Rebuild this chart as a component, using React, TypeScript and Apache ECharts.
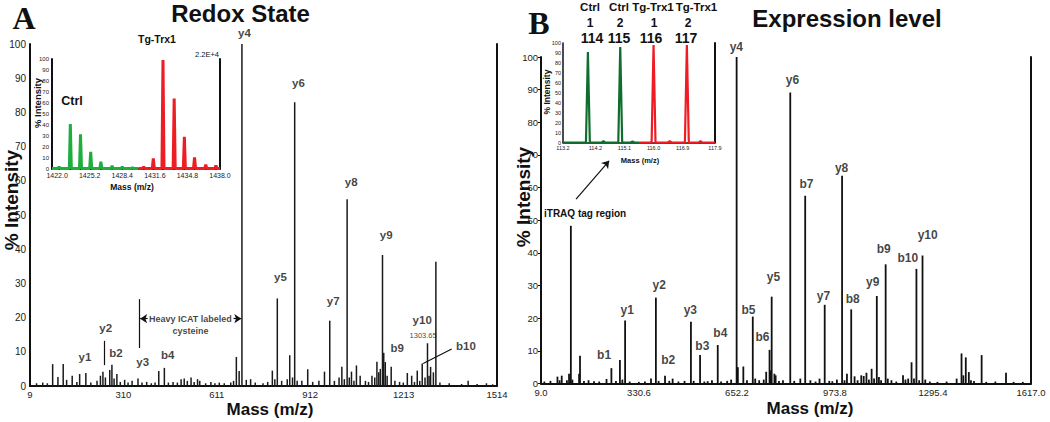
import React, { useEffect, useRef } from 'react';
import * as echarts from 'echarts';

const SANS = "'Liberation Sans', Arial, Helvetica, sans-serif";
const NARROW = "'Liberation Sans Narrow', 'Arial Narrow', 'Liberation Sans', Arial, sans-serif";
const SERIF = "'Liberation Serif', 'Times New Roman', serif";

// ---------- Panel A : Redox State ----------
const A_X_TICKS = [9, 310, 611, 912, 1213, 1514];
const A_PEAKS: [number, number][] = [
  [30, 0.8], [50, 1.0], [65, 0.8], [82, 6.4], [99, 2.6], [116, 6.4], [127, 1.8], [145, 3.0], [160, 1.2],
  [169, 3.5], [189, 3.8], [205, 1.0], [225, 1.5], [236, 3.0], [244, 4.2], [252, 2.5], [266, 4.7], [273, 6.2],
  [280, 2.2], [289, 3.5], [300, 1.2], [314, 1.8], [325, 1.0], [338, 1.5], [357, 2.2], [370, 1.0], [385, 1.2],
  [400, 0.8], [412, 1.0], [424, 4.4], [442, 5.3], [455, 1.0], [470, 1.2], [484, 1.0], [496, 2.0], [506, 2.2],
  [516, 1.5], [528, 2.5], [538, 1.2], [549, 2.0], [556, 1.5], [575, 0.8], [592, 1.2], [605, 0.8], [619, 1.0],
  [635, 0.8], [656, 1.0], [665, 1.5], [674, 8.5], [683, 4.4], [692, 100], [706, 1.8], [720, 2.0], [735, 1.0],
  [760, 0.8], [775, 1.2], [790, 4.5], [798, 2.0], [806, 25.6], [820, 1.5], [838, 2.0], [846, 9.0], [855, 2.5],
  [862, 83], [870, 1.5], [885, 1.5], [904, 4.9], [920, 1.2], [940, 1.5], [958, 4.2], [975, 19.1], [990, 1.5],
  [1005, 2.5], [1014, 5.6], [1022, 2.0], [1031, 54.6], [1038, 2.5], [1045, 4.2], [1053, 1.5], [1061, 6.0],
  [1073, 3.0], [1090, 1.5], [1100, 1.2], [1111, 3.0], [1120, 2.5], [1127, 7.1], [1133, 4.0], [1138, 5.0],
  [1145, 38.3], [1149, 9.7], [1154, 7.0], [1160, 3.0], [1173, 5.6], [1185, 1.5], [1200, 1.2], [1212, 1.0],
  [1225, 3.8], [1239, 3.0], [1248, 1.2], [1257, 4.5], [1265, 1.5], [1273, 6.6], [1282, 2.5], [1290, 12.5],
  [1295, 3.0], [1300, 5.6], [1309, 4.0], [1317, 36.3], [1330, 1.0], [1360, 0.8], [1400, 0.6], [1421, 1.5],
  [1450, 0.6], [1480, 0.8], [1500, 0.5],
];
const A_IONS: [number, number, string][] = [
  [700, 103.2, 'y4'], [874, 88.6, 'y6'], [1044, 59.6, 'y8'], [1157, 44.2, 'y9'], [816, 31.9, 'y5'],
  [986, 24.9, 'y7'], [1273, 19.3, 'y10'], [1414, 11.7, 'b10'], [1192, 11.1, 'b9'], [186, 8.5, 'y1'],
  [253, 17, 'y2'], [286, 9.6, 'b2'], [372, 7, 'y3'], [453, 9.1, 'b4'],
];
const A_NOTES: [number, number, string][] = [
  [526, 19.7, 'Heavy ICAT labeled'], [526, 16.1, 'cysteine'],
];
const A_SMALL: [number, number, string][] = [[1276, 14.9, '1303.65']];
// annotation lines: [x1, y1, x2, y2, arrow]
const A_LINES: [number, number, number, number, boolean][] = [
  [247, 6.1, 247, 13.2, false],
  [359.5, 11.1, 359.5, 25.4, false],
  [388, 19.7, 364, 19.7, true],
  [665, 19.7, 690, 19.7, true],
  [1276, 6.6, 1368, 10.8, false],
];

// Inset A (ICAT pair)
const IA_X_TICKS = [1422.0, 1425.2, 1428.4, 1431.6, 1434.8, 1438.0];
const IA_CTRL: [number, number][] = [
  [1422.2, 1.5], [1423.3, 40.6], [1424.3, 31.2], [1425.3, 15.3], [1426.3, 6.2], [1427.4, 2.6], [1428.4, 1.5], [1429.4, 1.0],
];
const IA_TG: [number, number][] = [
  [1430.5, 1.5], [1431.45, 9.3], [1432.4, 99], [1433.5, 64], [1434.5, 29], [1435.5, 10.2], [1436.6, 3.5], [1437.6, 2.8],
];

// ---------- Panel B : Expression level ----------
const B_X_TICKS = [9.0, 330.6, 652.2, 973.8, 1295.4, 1617.0];
const B_PEAKS: [number, number][] = [
  [20, 0.6], [40, 0.8], [63, 2.1], [70, 1.0], [77, 2.4], [94, 1.0], [101, 3.0], [107, 48.3], [112, 1.2],
  [134, 3.0], [137, 8.5], [150, 0.8], [165, 1.0], [183, 0.7], [200, 0.6], [224, 1.4], [240, 4.7], [255, 0.8],
  [268, 7.2], [276, 1.2], [285, 19.3], [300, 0.6], [330, 0.5], [350, 0.6], [370, 1.5], [386, 26.3], [395, 0.8],
  [416, 2.4], [430, 0.8], [441, 1.5], [460, 0.6], [480, 0.8], [501, 18.9], [510, 0.8], [531, 8.7], [545, 0.6],
  [556, 0.7], [570, 1.0], [589, 11.8], [600, 0.6], [620, 0.8], [633, 1.2], [651, 100], [655, 5], [673, 5.2],
  [685, 1.0], [704, 20.5], [712, 1.5], [725, 1.0], [740, 1.2], [748, 3.6], [759, 10.3], [763, 4], [766, 26.6],
  [775, 3.0], [779, 2.5], [790, 0.8], [803, 1.0], [827, 89.1], [840, 0.8], [860, 1.5], [876, 57.5], [893, 1.0],
  [910, 0.6], [923, 1.5], [940, 24.1], [955, 0.8], [965, 0.7], [980, 1.2], [997, 63.6], [1005, 1.0], [1013, 3.0],
  [1027, 22.7], [1038, 2.2], [1048, 1.0], [1060, 2.5], [1068, 2.3], [1077, 3.3], [1085, 1.2], [1094, 4.5],
  [1102, 1.5], [1111, 26.8], [1118, 2.0], [1125, 1.0], [1140, 36.5], [1147, 1.5], [1159, 1.0], [1175, 0.6],
  [1197, 2.5], [1205, 1.2], [1214, 1.5], [1225, 6.5], [1233, 1.5], [1241, 35.1], [1250, 1.0], [1261, 39.2],
  [1270, 1.2], [1285, 0.6], [1310, 0.5], [1340, 0.6], [1373, 1.5], [1389, 9.2], [1395, 2.5], [1403, 8.0],
  [1413, 3.5], [1420, 1.0], [1430, 0.8], [1455, 8.7], [1470, 0.5], [1500, 0.6], [1535, 3.3], [1560, 0.5], [1590, 0.5],
];
const B_IONS: [number, number, string][] = [
  [650, 103.2, 'y4'], [834.4, 93, 'y6'], [995.5, 66.1, 'y8'], [880, 61.2, 'b7'], [1278, 45.5, 'y10'],
  [1133.6, 41.2, 'b9'], [1212.5, 38.5, 'b10'], [1097.4, 31.1, 'y9'], [772, 32.6, 'y5'], [936, 26.8, 'y7'],
  [1031.7, 25.9, 'b8'], [397, 30.2, 'y2'], [291.8, 22.5, 'y1'], [499, 22.5, 'y3'], [689.7, 22.5, 'b5'],
  [597.6, 15.5, 'b4'], [735.7, 14.3, 'b6'], [538.4, 11.5, 'b3'], [216, 8.7, 'b1'], [426.6, 7.2, 'b2'],
];
const B_LINES: [number, number, number, number, boolean][] = [[124, 56.5, 232.6, 68.2, true]];

// Inset B (iTRAQ reporter ions)
const IB_X_TICKS = [113.2, 114.2, 115.1, 116.0, 116.9, 117.9];
const IB_CTRL: [number, number][] = [[113.97, 91], [114.45, 1.5], [114.97, 96], [115.35, 1.0]];
const IB_TG: [number, number][] = [[116.0, 98], [116.5, 1.2], [117.03, 98], [117.45, 1.5]];
const IB_HEAD_LABELS = ['Ctrl', 'Ctrl', 'Tg-Trx1', 'Tg-Trx1'];
const IB_HEAD_REP = ['1', '2', '1', '2'];
const IB_HEAD_MZ = ['114', '115', '116', '117'];

const BLACK = '#111';

function peakTrace(peaks: [number, number][], start: number, end: number, w: number) {
  const d: number[][] = [[start, 0]];
  peaks.forEach(([m, v]) => { d.push([m - w, 0], [m, v], [m + w, 0]); });
  d.push([end, 0]);
  return d;
}

function labelSeries(xi: number, items: [number, number, string][], size: number, bold: boolean, lines?: [number, number, number, number, boolean][]) {
  const s: any = {
    type: 'scatter', xAxisIndex: xi, yAxisIndex: xi, silent: true, clip: false, z: 5,
    symbol: 'circle', symbolSize: 1, itemStyle: { color: 'rgba(0,0,0,0)' },
    data: items.map(([m, v, t]) => ({ value: [m, v], label: { formatter: t } })),
    label: { show: true, position: 'inside', fontSize: size, fontWeight: bold ? 'bold' : 'normal', color: BLACK, fontFamily: SANS },
  };
  if (lines) {
    s.markLine = {
      silent: true, animation: false, label: { show: false },
      lineStyle: { color: BLACK, width: 1.2, type: 'solid' },
      emphasis: { disabled: true },
      data: lines.map(([x1, y1, x2, y2, arrow]) => [
        { coord: [x1, y1], symbol: 'none' },
        { coord: [x2, y2], symbol: arrow ? 'arrow' : 'none', symbolSize: 7 },
      ]),
    };
  }
  return s;
}

function xAxisDef(gi: number, min: number, max: number, ticks: number[], fmt: (v: number) => string, size: number, margin: number, lw: number) {
  return {
    type: 'value', gridIndex: gi, min, max,
    axisLine: { show: true, onZero: false, lineStyle: { color: BLACK, width: lw } },
    axisTick: { show: false },
    splitLine: { show: false },
    axisLabel: { customValues: ticks, formatter: fmt, fontSize: size, color: '#222', fontFamily: NARROW, margin },
  };
}
function yAxisDef(gi: number, size: number, margin: number, lw: number, tick: number) {
  return {
    type: 'value', gridIndex: gi, min: 0, max: 100, interval: 10,
    axisLine: { show: true, lineStyle: { color: BLACK, width: lw } },
    axisTick: { show: tick > 0, length: tick, lineStyle: { color: BLACK } },
    splitLine: { show: false },
    axisLabel: { fontSize: size, color: '#222', fontFamily: NARROW, margin },
  };
}
function frameAxis(gi: number, lw: number) {
  return {
    type: 'value', gridIndex: gi, min: 0, max: 100, position: 'right',
    axisLine: { show: true, lineStyle: { color: BLACK, width: lw } },
    axisTick: { show: false }, axisLabel: { show: false }, splitLine: { show: false },
  };
}

function txt(x: number, y: number, text: string, size: number, opts: any = {}) {
  return {
    type: 'text', x, y, rotation: opts.rot || 0, silent: true, z: 10,
    style: {
      text, fill: opts.color || BLACK, fontSize: size, fontWeight: opts.weight || 'bold',
      fontFamily: opts.family || SANS, align: opts.align || 'center', verticalAlign: 'middle',
    },
  };
}

export default function App() {
  const ref = useRef<HTMLDivElement>(null);
  useEffect(() => {
    document.body.style.margin = '0';
    if (!ref.current) return;
    const chart = echarts.init(ref.current, null, { renderer: 'svg' });
    const f1 = (v: number) => v.toFixed(1);
    const f0 = (v: number) => String(v);
    const graphic: any[] = [
      txt(24, 18, 'A', 32, { family: SERIF }),
      txt(240.5, 13, 'Redox State', 24),
      txt(539, 23, 'B', 32, { family: SERIF }),
      txt(847, 18, 'Expression level', 24),
      txt(11, 200, '% Intensity', 19, { rot: Math.PI / 2 }),
      txt(523, 197, '% Intensity', 19, { rot: Math.PI / 2 }),
      txt(270, 409, 'Mass (m/z)', 17),
      txt(810, 408, 'Mass (m/z)', 17),
      // inset A
      txt(72, 101, 'Ctrl', 12.5),
      txt(157, 39, 'Tg-Trx1', 10.5),
      txt(219, 54, '2.2E+4', 7.5, { weight: 'normal', align: 'right' }),
      txt(37, 103, '% Intensity', 9.5, { rot: Math.PI / 2 }),
      txt(132, 187, 'Mass (m/z)', 8.5),
      // inset B
      txt(547, 92, '% Intensity', 8.5, { rot: Math.PI / 2 }),
      txt(640, 160, 'Mass (m/z)', 7.5),
      txt(544, 213, 'iTRAQ tag region', 10, { align: 'left' }),
    ];
    const headX = [590, 619, 653, 696.5];
    const repX = [590, 620, 654, 688];
    const mzX = [592, 619, 651, 686];
    IB_HEAD_LABELS.forEach((t, i) => graphic.push(txt(headX[i], 7, t, 11.5)));
    IB_HEAD_REP.forEach((t, i) => graphic.push(txt(repX[i], 23, t, 12)));
    IB_HEAD_MZ.forEach((t, i) => graphic.push(txt(mzX[i], 37.5, t, 14)));

    chart.setOption({
      animation: false,
      textStyle: { fontFamily: SANS },
      grid: [
        { left: 30, top: 44, width: 467, height: 342 },
        { left: 52, top: 59, width: 168, height: 109.5 },
        { left: 541, top: 57, width: 490, height: 326.5 },
        { left: 563, top: 43, width: 152, height: 99.5 },
      ],
      xAxis: [
        xAxisDef(0, 9, 1514, A_X_TICKS, f0, 9.5, 3, 2),
        xAxisDef(1, 1421.5, 1438, IA_X_TICKS, f1, 7, 3, 2),
        xAxisDef(2, 9, 1617, B_X_TICKS, f1, 9.5, 4, 2),
        xAxisDef(3, 113.2, 117.9, IB_X_TICKS, f1, 5.5, 2, 1.5),
      ],
      yAxis: [
        yAxisDef(0, 10, 4, 2, 0),
        yAxisDef(1, 6, 3, 2, 0),
        yAxisDef(2, 9.5, 3, 2, 3),
        yAxisDef(3, 5.5, 2, 1.5, 0),
        frameAxis(0, 2), frameAxis(1, 2), frameAxis(2, 2), frameAxis(3, 2),
      ],
      graphic,
      series: [
        { type: 'bar', xAxisIndex: 0, yAxisIndex: 0, data: A_PEAKS, barWidth: 1.5, itemStyle: { color: '#1a1a1a' }, silent: true },
        { type: 'bar', xAxisIndex: 2, yAxisIndex: 2, data: B_PEAKS, barWidth: 1.8, itemStyle: { color: '#111' }, silent: true },
        { type: 'line', xAxisIndex: 1, yAxisIndex: 1, data: peakTrace(IA_CTRL, 1421.5, 1430.0, 0.1), symbol: 'none', lineStyle: { color: '#1fae3e', width: 3 }, silent: true },
        { type: 'line', xAxisIndex: 1, yAxisIndex: 1, data: peakTrace(IA_TG, 1430.0, 1438.0, 0.1), symbol: 'none', lineStyle: { color: '#ee1d23', width: 3 }, silent: true },
        { type: 'line', xAxisIndex: 3, yAxisIndex: 3, data: peakTrace(IB_CTRL, 113.2, 115.55, 0.06), symbol: 'none', lineStyle: { color: '#0f6e2d', width: 2.2 }, silent: true },
        { type: 'line', xAxisIndex: 3, yAxisIndex: 3, data: peakTrace(IB_TG, 115.55, 117.9, 0.06), symbol: 'none', lineStyle: { color: '#ef1c24', width: 2.2 }, silent: true },
        labelSeries(0, A_IONS, 11.5, true, A_LINES),
        labelSeries(0, A_NOTES, 9, true),
        labelSeries(0, A_SMALL, 7.5, false),
        labelSeries(2, B_IONS, 12, true, B_LINES),
      ],
    });
    return () => chart.dispose();
  }, []);
  return <div ref={ref} style={{ width: 1050, height: 422 }} />;
}
